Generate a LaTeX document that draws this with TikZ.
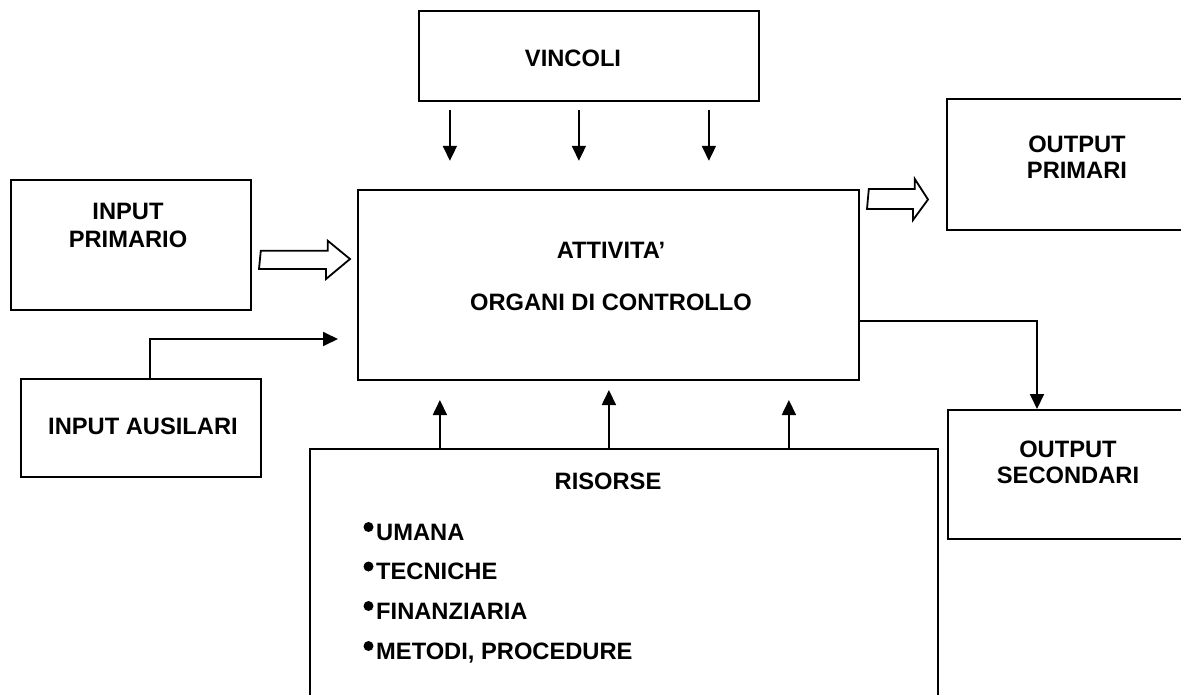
\documentclass[tikz,border=0pt]{standalone}
\usepackage{fontspec}
\setmainfont{Liberation Sans}
\usetikzlibrary{arrows.meta,calc}
\begin{document}
\begin{tikzpicture}[x=1pt,y=-1pt,
  box/.style={draw, line width=1.8pt, rectangle, inner sep=0pt, anchor=north west},
  lbl/.style={font=\bfseries\fontsize{23.7}{28}\selectfont, inner sep=0pt, anchor=base},
  item/.style={font=\bfseries\fontsize{23.7}{28}\selectfont, inner sep=0pt, anchor=base west},
  arr/.style={line width=1.8pt, -{Triangle[length=15pt,width=14pt]}},
  hollow/.style={draw, line width=1.8pt, fill=white, line join=miter}]
\path[use as bounding box] (0,0) rectangle (1181,694);
\clip (0,0) rectangle (1181,694);

% boxes
\node[box, minimum width=340, minimum height=90]  (vinc) at (418,10) {};
\node[box, minimum width=501, minimum height=190] (att)  at (357,189) {};
\node[box, minimum width=240, minimum height=130] (inp)  at (10,179) {};
\node[box, minimum width=240, minimum height=98]  (aus)  at (20,378) {};
\node[box, minimum width=280, minimum height=131] (outp) at (946,98) {};
\node[box, minimum width=280, minimum height=129] (outs) at (947,409) {};
\node[box, minimum width=628, minimum height=300] (ris)  at (309,448) {};

% labels
\node[lbl] (tvinc) at (573,66.5) {VINCOLI};
\node[lbl] (tatt)  at (611,258.5) {ATTIVITA’};
\node[lbl] (torg)  at (611,310.5) {ORGANI DI CONTROLLO};
\node[lbl] (tinp1) at (128,219) {INPUT};
\node[lbl] (tinp2) at (128,247) {PRIMARIO};
\node[lbl] (taus)  at (143,434) {INPUT AUSILARI};
\node[lbl] (tout1) at (1077,152) {OUTPUT};
\node[lbl] (tout2) at (1077,178) {PRIMARI};
\node[lbl] (tsec1) at (1068,457) {OUTPUT};
\node[lbl] (tsec2) at (1068,483) {SECONDARI};
\node[lbl] (tris)  at (608,489) {RISORSE};

% resource list with raised bullets
\node[item] (r1) at (376,540) {UMANA};
\node[item] (r2) at (376,579.5) {TECNICHE};
\node[item] (r3) at (376,619) {FINANZIARIA};
\node[item] (r4) at (376,659) {METODI, PROCEDURE};
\foreach \n in {r1,r2,r3,r4}
  \fill ([xshift=-7.5pt,yshift=13pt]\n.base west) circle (5pt);

% constraints acting on the activity
\foreach \dx in {-139,-10,120}
  \draw[arr] ([xshift=\dx pt,yshift=-8pt]vinc.south) -- ++(0,51);

% resources feeding the activity
\draw[arr] ([xshift=-184pt]ris.north) -- ++(0,-48);
\draw[arr] ([xshift=-15pt]ris.north)  -- ++(0,-58);
\draw[arr] ([xshift=165pt]ris.north)  -- ++(0,-48);

% auxiliary input
\coordinate (auxend) at (338,339);
\draw[arr] ([xshift=130pt]aus.north west) |- (auxend);

% secondary output
\draw[arr] ($(att.north east)+(0,132)$) -| ([xshift=90pt]outs.north west);

% hollow flow arrows
\draw[hollow] ([xshift=9pt,yshift=60pt]inp.south east) -- ++(67,0) -- ++(0,-10)
  -- (350,259) -- (326,279) -- ++(0,-10) -- ++(-67,0) -- cycle;
\draw[hollow] ([xshift=9pt]att.north east) -- ++(46,0) -- ++(0,-10)
  -- (928,199.5) -- (913,220) -- ++(0,-11) -- ++(-46,0) -- cycle;
\end{tikzpicture}
\end{document}
